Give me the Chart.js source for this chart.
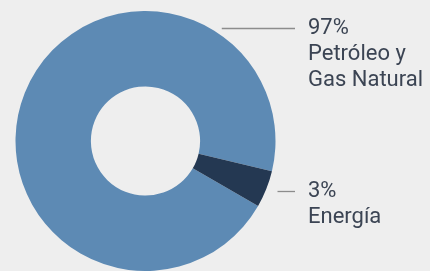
<!DOCTYPE html>
<html>
<head>
<meta charset="utf-8">
<script src="https://cdn.jsdelivr.net/npm/chart.js@4"></script>
<style>
  html, body { margin: 0; padding: 0; background: #eeeeee; }
  #wrap { width: 430px; height: 271px; position: relative; }
</style>
</head>
<body>
<div id="wrap"><canvas id="dona"></canvas></div>
<script>
const categorias = ["Petróleo y Gas Natural", "Energía"];
const porcentajes = ["97%", "3%"];
const valores = [95.4, 4.6]; // proporción del arco tal como se ve dibujado
const lineasNombre = [["Petróleo y", "Gas Natural"], ["Energía"]];
const colores = ["#5d8ab4", "#243852"];

// etiquetas con línea guía a la derecha
const etiquetasLaterales = {
  id: "etiquetasLaterales",
  afterDraw(chart) {
    const ctx = chart.ctx;
    const arco = chart.getDatasetMeta(0).data[0];
    const cx = arco.x, cy = arco.y, r = arco.outerRadius;
    const filasY = [28, 191];
    const finLinea = 295;
    const textoX = 308;
    const altoLinea = 26;

    ctx.save();
    categorias.forEach((cat, i) => {
      const y = filasY[i];
      const dy = y - cy;
      const inicio = cx + Math.sqrt(Math.max(r * r - dy * dy, 0)) + 12;
      ctx.strokeStyle = "#8c8c8c";
      ctx.lineWidth = 1.3;
      ctx.beginPath();
      ctx.moveTo(inicio, y + 0.5);
      ctx.lineTo(finLinea, y + 0.5);
      ctx.stroke();

      ctx.fillStyle = "#3b4453";
      ctx.font = "22px Roboto";
      ctx.textAlign = "left";
      ctx.textBaseline = "alphabetic";
      const base = y + 6;
      ctx.fillText(porcentajes[i], textoX, base);
      lineasNombre[i].forEach((t, j) => {
        ctx.fillText(t, textoX, base + altoLinea * (j + 1));
      });
    });
    ctx.restore();
  }
};

new Chart(document.getElementById("dona").getContext("2d"), {
  type: "doughnut",
  data: {
    labels: categorias,
    datasets: [{
      data: valores,
      backgroundColor: colores,
      borderWidth: 0,
      hoverOffset: 0
    }]
  },
  options: {
    responsive: true,
    maintainAspectRatio: false,
    animation: false,
    cutout: "42%",
    rotation: 120,
    layout: {
      padding: { left: 15, right: 154, top: 11, bottom: 0 }
    },
    plugins: {
      legend: { display: false },
      tooltip: { enabled: false }
    }
  },
  plugins: [etiquetasLaterales]
});
</script>
</body>
</html>
